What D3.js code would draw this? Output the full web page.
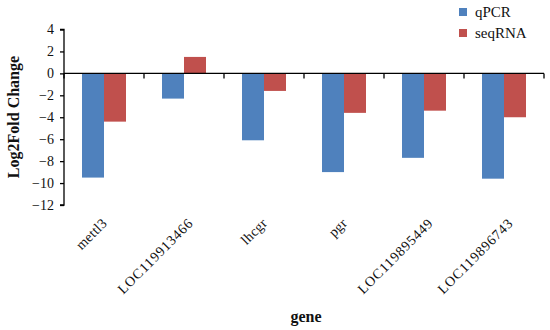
<!DOCTYPE html>
<html>
<head>
<meta charset="utf-8">
<script src="https://cdn.jsdelivr.net/npm/d3@7/dist/d3.min.js"></script>
<style>
    body { margin: 0; background: #fff; }
    text { font-family: "Liberation Serif", "Times New Roman", serif; fill: #111; }
</style>
</head>
<body>
<script>
//chart data
var genes = ["mettl3", "LOC119913466", "lhcgr", "pgr", "LOC119895449", "LOC119896743"];
var seriesNames = ["qPCR", "seqRNA"];
var qpcrValues = [-9.5, -2.3, -6.1, -9.0, -7.7, -9.6];
var seqrnaValues = [-4.4, 1.5, -1.6, -3.6, -3.4, -4.0];
var yTicks = [4, 2, 0, -2, -4, -6, -8, -10, -12];
var colors = ["#4F81BD", "#C0504D"];

window.onload = drawChart();

function drawChart(){
    var width = 550,
        height = 330;

    var svg = d3.select("body")
        .append("svg")
        .attr("width", width)
        .attr("height", height);

    //scales
    var x = d3.scaleBand()
        .domain(genes)
        .range([64, 544])
        .paddingInner(0.45)
        .paddingOuter(0.225);

    var xSub = d3.scaleBand()
        .domain(seriesNames)
        .range([0, x.bandwidth()]);

    var y = d3.scaleLinear()
        .domain([-12, 4])
        .range([205, 29.5]);

    var color = d3.scaleOrdinal()
        .domain(seriesNames)
        .range(colors);

    //bars
    var data = genes.map(function(g, i){
        return {gene: g, values: [
            {name: "qPCR", value: qpcrValues[i]},
            {name: "seqRNA", value: seqrnaValues[i]}
        ]};
    });

    var groups = svg.selectAll(".group")
        .data(data)
        .enter()
        .append("g")
        .attr("class", "group")
        .attr("transform", function(d){ return "translate(" + x(d.gene) + ",0)"; });

    groups.selectAll("rect")
        .data(function(d){ return d.values; })
        .enter()
        .append("rect")
        .attr("x", function(d){ return xSub(d.name); })
        .attr("width", xSub.bandwidth())
        .attr("y", function(d){ return y(Math.max(0, d.value)); })
        .attr("height", function(d){ return Math.abs(y(d.value) - y(0)); })
        .attr("fill", function(d){ return color(d.name); });

    //y axis
    var yAxis = svg.append("g")
        .attr("transform", "translate(64,0)")
        .call(d3.axisLeft(y)
            .tickValues(yTicks)
            .tickSize(4)
            .tickPadding(6)
            .tickFormat(function(d){ return d < 0 ? "\u2212" + Math.abs(d) : d; }));
    yAxis.attr("font-family", null);
    yAxis.select(".domain").attr("d", "M-4," + y(4) + "H0V" + y(-12) + "H-4");
    yAxis.selectAll("path, line").attr("stroke", "#000").attr("stroke-width", 1.3);
    yAxis.selectAll("text")
        .style("font-family", "Liberation Serif")
        .style("font-size", "14px")
        .attr("fill", "#111");

    //zero line with category ticks
    svg.append("line")
        .attr("x1", 64).attr("x2", 544)
        .attr("y1", y(0)).attr("y2", y(0))
        .attr("stroke", "#000").attr("stroke-width", 1.3);
    var tickXs = d3.range(genes.length + 1).map(function(i){ return 64 + i * x.step(); });
    svg.selectAll(".xtick")
        .data(tickXs)
        .enter()
        .append("line")
        .attr("class", "xtick")
        .attr("x1", function(d){ return d; })
        .attr("x2", function(d){ return d; })
        .attr("y1", y(0))
        .attr("y2", y(0) + 5)
        .attr("stroke", "#000").attr("stroke-width", 1.3);

    //category labels
    svg.selectAll(".xlabel")
        .data(genes)
        .enter()
        .append("text")
        .attr("class", "xlabel")
        .attr("transform", function(d){
            var cx = x(d) + x.bandwidth() / 2;
            var off = d.length > 6 ? 10 : 4;
            return "translate(" + (cx + off) + ",224) rotate(-45)";
        })
        .attr("text-anchor", "end")
        .style("font-size", "14px")
        .style("letter-spacing", function(d){ return d.length > 6 ? "0.8px" : "0.3px"; })
        .text(function(d){ return d; });

    //axis titles
    svg.append("text")
        .attr("transform", "translate(19,117) rotate(-90)")
        .attr("text-anchor", "middle")
        .style("font-size", "16px")
        .style("font-weight", "bold")
        .text("Log2Fold Change");

    svg.append("text")
        .attr("x", 306)
        .attr("y", 322)
        .attr("text-anchor", "middle")
        .style("font-size", "16px")
        .style("font-weight", "bold")
        .text("gene");

    //legend
    var legend = svg.selectAll(".legend")
        .data(seriesNames)
        .enter()
        .append("g")
        .attr("class", "legend")
        .attr("transform", function(d, i){ return "translate(459," + (8 + i * 21) + ")"; });
    legend.append("rect")
        .attr("width", 8).attr("height", 8)
        .attr("fill", function(d){ return color(d); });
    legend.append("text")
        .attr("x", 16)
        .attr("y", 9)
        .style("font-size", "15px")
        .text(function(d){ return d; });
}
</script>
</body>
</html>
